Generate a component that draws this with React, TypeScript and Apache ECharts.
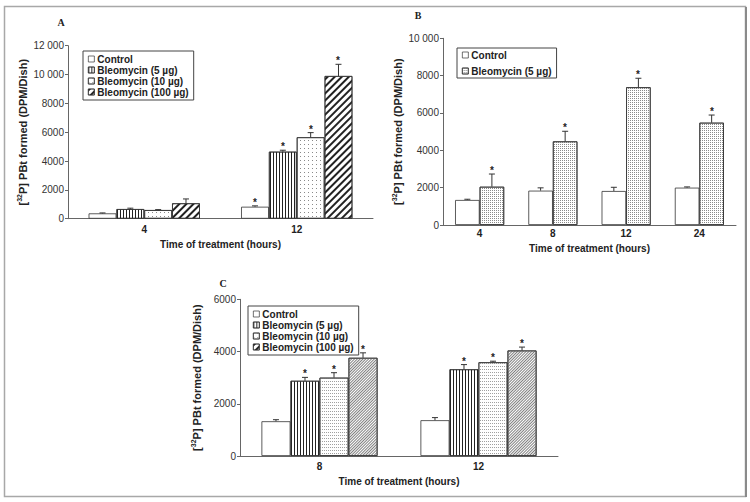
import React, { useEffect, useRef } from "react";
import * as echarts from "echarts";

// Panel A
const catsA = ["4", "12"];
const aControl = [370, 830];
const aControlErr = [30, 60];
const aControlStar = [0, 1];
const aB5 = [670, 4650];
const aB5Err = [60, 100];
const aB5Star = [0, 1];
const aB10 = [600, 5650];
const aB10Err = [30, 320];
const aB10Star = [0, 1];
const aB100 = [1070, 9900];
const aB100Err = [300, 810];
const aB100Star = [0, 1];

// Panel B
const catsB = ["4", "8", "12", "24"];
const bControl = [1340, 1840, 1820, 2000];
const bControlErr = [40, 150, 200, 40];
const bControlStar = [0, 0, 0, 0];
const bB5 = [2050, 4480, 7380, 5480];
const bB5Err = [680, 540, 480, 410];
const bB5Star = [1, 1, 1, 1];

// Panel C
const catsC = ["8", "12"];
const cControl = [1330, 1370];
const cControlErr = [60, 100];
const cControlStar = [0, 0];
const cB5 = [2880, 3320];
const cB5Err = [130, 180];
const cB5Star = [1, 1];
const cB10 = [3000, 3590];
const cB10Err = [190, 40];
const cB10Star = [1, 1];
const cB100 = [3760, 4040];
const cB100Err = [190, 130];
const cB100Star = [1, 1];

const names4 = ["Control", "Bleomycin (5 µg)", "Bleomycin (10 µg)", "Bleomycin (100 µg)"];
const xTitle = "Time of treatment (hours)";
const yTitle = "[{sup|32}P] PBt formed (DPM/Dish)";

const FONT = "'Liberation Sans', Arial, sans-serif";

const decVert = { symbol: "rect", symbolSize: 1, dashArrayX: [1, 2], dashArrayY: [4, 0], color: "#222", backgroundColor: "#fff" };
const decDotsSparse = { symbol: "rect", symbolSize: 1, dashArrayX: [1, 3], dashArrayY: [1, 3], color: "#8a8a8a", backgroundColor: "#fff" };
const decDiagThick = { symbol: "rect", symbolSize: 1, dashArrayX: [6, 0], dashArrayY: [2, 3], rotation: -Math.PI / 4, color: "#222", backgroundColor: "#fff" };
const decDotsDense = { symbol: "rect", symbolSize: 1, dashArrayX: [1, 1], dashArrayY: [1, 1], color: "#8a8a8a", backgroundColor: "#fff" };
const decDotsDenseC = { symbol: "rect", symbolSize: 1, dashArrayX: [1, 1], dashArrayY: [1, 2], color: "#a0a0a0", backgroundColor: "#fff" };
const decDiagThin = { symbol: "rect", symbolSize: 1, dashArrayX: [6, 0], dashArrayY: [1, 1], rotation: -Math.PI / 4, color: "#808080", backgroundColor: "#fff" };

function barSeries(name: string, data: number[], idx: number, decal: any, gap: string) {
  return {
    type: "bar",
    name,
    xAxisIndex: idx,
    yAxisIndex: idx,
    data,
    barGap: "0%",
    barCategoryGap: gap,
    itemStyle: { color: "#fff", borderColor: "#333", borderWidth: 0.8, decal: decal || undefined },
    z: 2,
  };
}

function errSeries(
  name: string,
  values: number[],
  errs: number[],
  stars: number[],
  axis: number,
  k: number,
  n: number,
  gap: number
) {
  return {
    type: "custom",
    name,
    xAxisIndex: axis,
    yAxisIndex: axis,
    silent: true,
    z: 5,
    itemStyle: { color: "#333" },
    encode: { x: 0, y: 1 },
    data: values.map((v, i) => [i, v, errs[i], stars[i]]),
    renderItem: (params: any, api: any) => {
      const ci = api.value(0);
      const v = api.value(1);
      const e = api.value(2);
      const s = api.value(3);
      const base = api.coord([ci, v]);
      const up = api.coord([ci, v + e]);
      const band = api.size([1, 0])[0];
      const total = band * (1 - gap);
      const w = total / n;
      const x = base[0] - total / 2 + (k + 0.5) * w;
      const children: any[] = [
        { type: "line", shape: { x1: x, y1: base[1], x2: x, y2: up[1] }, style: { stroke: "#333", lineWidth: 1 } },
        { type: "line", shape: { x1: x - 3, y1: up[1], x2: x + 3, y2: up[1] }, style: { stroke: "#333", lineWidth: 1 } },
      ];
      if (s) {
        children.push({
          type: "text",
          style: {
            text: "*",
            x: Math.round(x),
            y: Math.round(up[1] + 1),
            align: "center",
            verticalAlign: "bottom",
            fontSize: 10,
            fontWeight: "bold",
            fontFamily: FONT,
            fill: "#222",
          },
        });
      }
      return { type: "group", children };
    },
  };
}

function yAxis(idx: number, max: number, nameGap: number) {
  return {
    type: "value",
    gridIndex: idx,
    min: 0,
    max,
    interval: 2000,
    splitLine: { show: false },
    axisLine: { show: true, lineStyle: { color: "#666", width: 1 } },
    axisTick: { show: true, length: 3, lineStyle: { color: "#666" } },
    axisLabel: {
      fontSize: 10,
      color: "#333",
      fontFamily: FONT,
      margin: 4,
      formatter: (v: number) =>
        v >= 10000 ? `${Math.floor(v / 1000)} ${String(v % 1000).padStart(3, "0")}` : String(v),
    },
    name: yTitle,
    nameLocation: "middle",
    nameGap,
    nameTextStyle: {
      fontSize: 11,
      fontWeight: "bold",
      color: "#222",
      fontFamily: FONT,
      lineHeight: 14,
      rich: {
        sup: { fontSize: 7, fontWeight: "bold", color: "#222", fontFamily: FONT, verticalAlign: "top", lineHeight: 8 },
      },
    },
  };
}

function xAxis(idx: number, cats: string[], nameGap: number, margin: number) {
  return {
    type: "category",
    gridIndex: idx,
    data: cats,
    axisLine: { show: true, lineStyle: { color: "#666", width: 1 } },
    axisTick: { show: false },
    axisLabel: { fontSize: 10, fontWeight: "bold", color: "#222", fontFamily: FONT, margin },
    name: xTitle,
    nameLocation: "middle",
    nameGap,
    nameTextStyle: { fontSize: 10, fontWeight: "bold", color: "#222", fontFamily: FONT },
  };
}

function legend(left: number, top: number, data: any[], lineHeight: number, gap: number, padding: number[]) {
  return {
    show: true,
    orient: "vertical",
    left,
    top,
    data,
    icon: "rect",
    itemWidth: 6,
    itemHeight: 6,
    itemGap: gap,
    padding,
    borderColor: "#444",
    borderWidth: 1,
    selectedMode: false,
    itemStyle: { borderColor: "#333", borderWidth: 0.7 },
    textStyle: { fontSize: 10, fontWeight: "bold", color: "#222", fontFamily: FONT, lineHeight, padding: [0, 0, 0, -2] },
  };
}

export default function App() {
  const ref = useRef<HTMLDivElement>(null);
  useEffect(() => {
    if (!ref.current) return;
    const chart = echarts.init(ref.current, undefined, { renderer: "svg" });
    const gA = 0.27;
    const gB = 0.33;
    const gC = 0.27;
    const option: any = {
      animation: false,
      backgroundColor: "#fff",
      grid: [
        { left: 68, top: 45.7, width: 305, height: 173 },
        { left: 443, top: 38.3, width: 293, height: 186.7 },
        { left: 240, top: 299.3, width: 318, height: 156.7 },
      ],
      xAxis: [xAxis(0, catsA, 21, 6), xAxis(1, catsB, 18, 3), xAxis(2, catsC, 20, 5)],
      yAxis: [yAxis(0, 12000, 38), yAxis(1, 10000, 38), yAxis(2, 6000, 36)],
      legend: [
        legend(83, 51, names4, 10, 1, [3, 5, 3, 5]),
        legend(457, 48, [
          { name: "Control" },
          { name: "Bleomycin (5 µg)", itemStyle: { decal: decDotsDense } },
        ], 12, 4, [1, 5, 1, 5]),
        legend(248, 306, names4, 10, 1, [3, 5, 3, 5]),
      ],
      series: [
        barSeries("Control", aControl, 0, null, "27%"),
        barSeries("Bleomycin (5 µg)", aB5, 0, decVert, "27%"),
        barSeries("Bleomycin (10 µg)", aB10, 0, decDotsSparse, "27%"),
        barSeries("Bleomycin (100 µg)", aB100, 0, decDiagThick, "27%"),
        errSeries("errA0", aControl, aControlErr, aControlStar, 0, 0, 4, gA),
        errSeries("errA1", aB5, aB5Err, aB5Star, 0, 1, 4, gA),
        errSeries("errA2", aB10, aB10Err, aB10Star, 0, 2, 4, gA),
        errSeries("errA3", aB100, aB100Err, aB100Star, 0, 3, 4, gA),

        barSeries("Control", bControl, 1, null, "33%"),
        barSeries("Bleomycin (5 µg)", bB5, 1, decDotsDense, "33%"),
        errSeries("errB0", bControl, bControlErr, bControlStar, 1, 0, 2, gB),
        errSeries("errB1", bB5, bB5Err, bB5Star, 1, 1, 2, gB),

        barSeries("Control", cControl, 2, null, "27%"),
        barSeries("Bleomycin (5 µg)", cB5, 2, decVert, "27%"),
        barSeries("Bleomycin (10 µg)", cB10, 2, decDotsDenseC, "27%"),
        barSeries("Bleomycin (100 µg)", cB100, 2, decDiagThin, "27%"),
        errSeries("errC0", cControl, cControlErr, cControlStar, 2, 0, 4, gC),
        errSeries("errC1", cB5, cB5Err, cB5Star, 2, 1, 4, gC),
        errSeries("errC2", cB10, cB10Err, cB10Star, 2, 2, 4, gC),
        errSeries("errC3", cB100, cB100Err, cB100Star, 2, 3, 4, gC),
      ],
      graphic: [
        { type: "rect", shape: { x: 4.5, y: 6.5, width: 741, height: 490 }, style: { fill: "none", stroke: "#a8a8a8", lineWidth: 1.5 }, silent: true },
        { type: "line", shape: { x1: 746, y1: 7, x2: 746, y2: 497 }, style: { stroke: "#8a8a8a", lineWidth: 2 }, silent: true },
        { type: "text", x: 61, y: 22, style: { text: "A", font: "bold 10px 'Liberation Serif', serif", fill: "#222", align: "center", verticalAlign: "middle" } },
        { type: "text", x: 418, y: 15, style: { text: "B", font: "bold 10px 'Liberation Serif', serif", fill: "#222", align: "center", verticalAlign: "middle" } },
        { type: "text", x: 223, y: 283, style: { text: "C", font: "bold 10px 'Liberation Serif', serif", fill: "#222", align: "center", verticalAlign: "middle" } },
      ],
    };
    chart.setOption(option);
    return () => chart.dispose();
  }, []);
  return (
    <div style={{ position: "fixed", left: 0, top: 0, width: 750, height: 502, background: "#fff" }}>
      <div ref={ref} style={{ width: 750, height: 502 }} />
    </div>
  );
}
